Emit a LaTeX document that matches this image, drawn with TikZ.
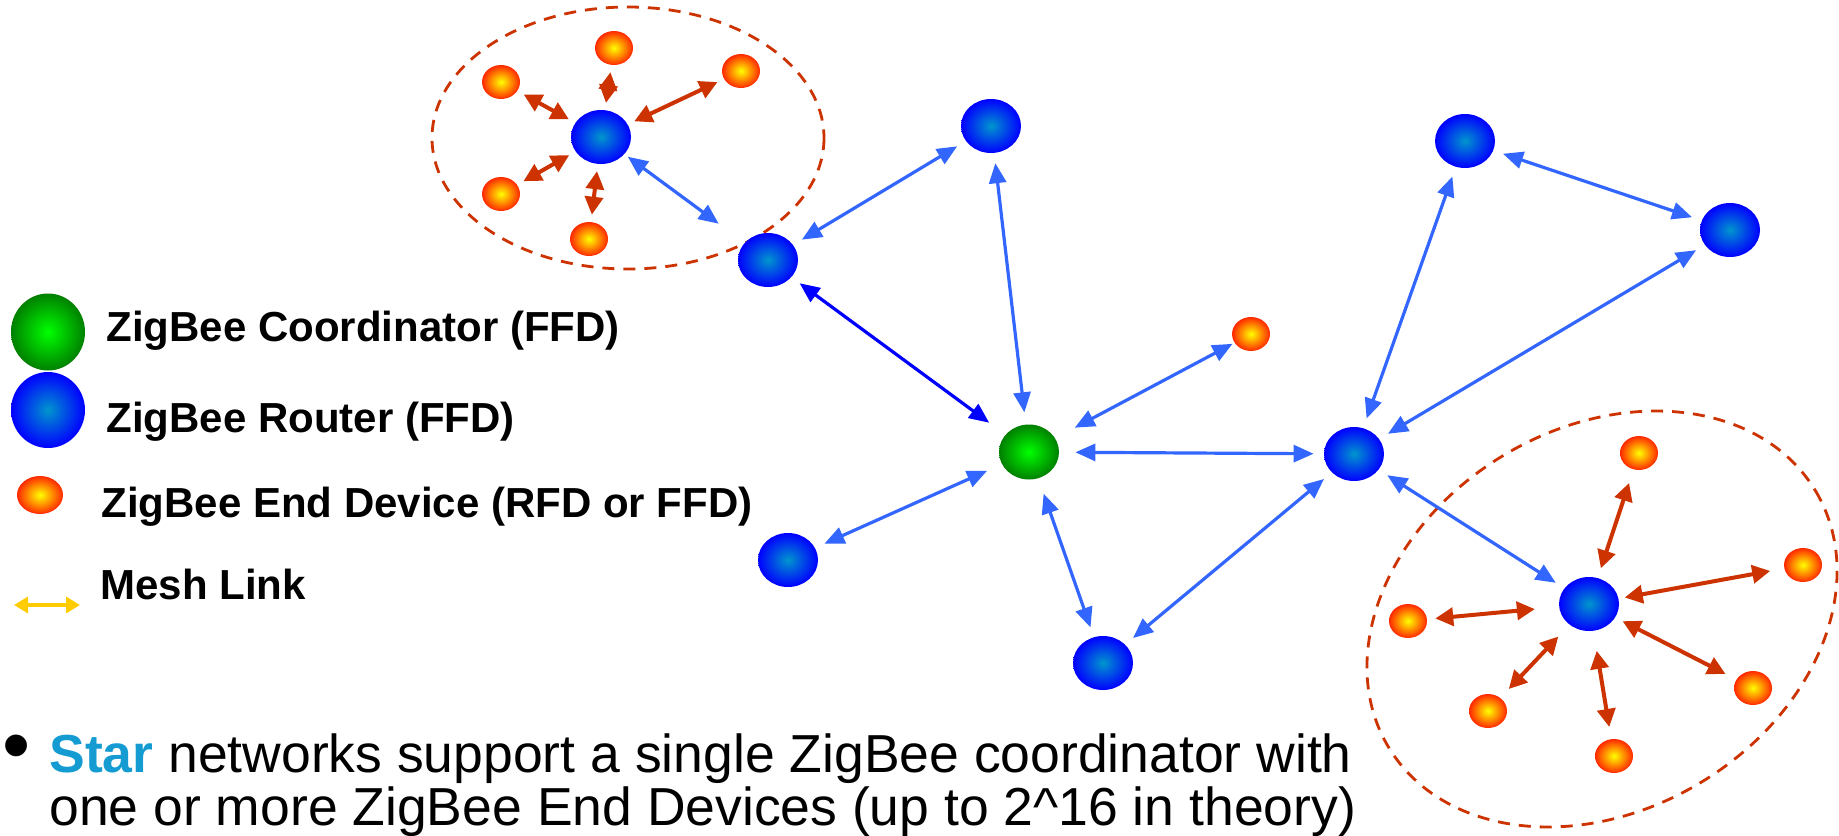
\documentclass[tikz,border=0pt]{standalone}
\usepackage{fontspec}
\setmainfont{Liberation Sans}
\usetikzlibrary{shapes.geometric,arrows.meta}
\definecolor{linkblue}{RGB}{51,102,255}
\definecolor{starred}{RGB}{204,51,0}
\definecolor{meshgold}{RGB}{255,204,0}
\definecolor{starcyan}{RGB}{20,155,210}
\definecolor{rtin}{RGB}{0,150,205}
\definecolor{crdout}{RGB}{0,128,0}
\definecolor{devout}{RGB}{255,40,0}
\begin{document}
\begin{tikzpicture}[x=0.5pt, y=-0.5pt,
  rtr/.style={ellipse, inner sep=0, minimum width=30pt, minimum height=27pt, inner color=rtin, outer color=blue},
  crd/.style={ellipse, inner sep=0, minimum width=30pt, minimum height=27.5pt, inner color=green, outer color=crdout},
  dev/.style={ellipse, inner sep=0, minimum width=19pt, minimum height=17pt, inner color=yellow, outer color=devout},
  link/.style={linkblue, line width=1.6pt, {Triangle[length=10pt,width=8.5pt]}-{Triangle[length=10pt,width=8.5pt]}, shorten <=5pt, shorten >=5pt},
  slink/.style={starred, line width=2pt, {Triangle[length=9pt,width=9pt]}-{Triangle[length=9pt,width=9pt]}, shorten <=3.5pt, shorten >=3.5pt},
  zone/.style={starred, line width=1.4pt, dash pattern=on 6pt off 4.5pt},
  lgtxt/.style={anchor=base west, inner sep=0, font=\fontsize{21}{25}\selectfont\bfseries},
  bodytxt/.style={anchor=base west, inner sep=0, font=\fontsize{26.75}{27}\selectfont}]
\useasboundingbox (0,0) rectangle (1839,835);

% star zones
\draw[zone] (628,138) ellipse [x radius=196, y radius=131];
\draw[zone, rotate around={31:(1602,619)}] (1602,619) ellipse [x radius=249, y radius=191];

% legend
\node[crd, minimum width=37pt, minimum height=38.5pt] (lgc) at (48,332){};
\node[rtr, minimum width=37pt, minimum height=38pt] (lgr) at (48,410){};
\node[dev, minimum width=23pt, minimum height=19pt] (lge) at (40,495){};
\coordinate (ml1) at (14,605);
\coordinate (ml2) at (80,605);
\draw[meshgold, line width=1.8pt, {Triangle[length=7pt,width=8pt]}-{Triangle[length=7pt,width=8pt]}] (ml1) -- (ml2);
\node[lgtxt] (tco) at (106,341){ZigBee Coordinator (FFD)};
\node[lgtxt] (trt) at (106,432){ZigBee Router (FFD)};
\node[lgtxt] (ted) at (101,517){ZigBee End Device (RFD or FFD)};
\node[lgtxt] (tml) at (100,599){Mesh Link};

% top-left star
\node[rtr] (rt1) at (601,137){};
\node[dev] (ed1) at (501,82){};
\node[dev] (ed2) at (614,48){};
\node[dev] (ed3) at (741,71){};
\node[dev] (ed4) at (501,194){};
\node[dev] (ed5) at (589,239){};
\draw[slink](rt1) -- (ed1);
\draw[slink](rt1) -- (ed2);
\draw[slink](rt1) -- (ed3);
\draw[slink](rt1) -- (ed4);
\draw[slink](rt1) -- (ed5);

% mesh
\node[rtr] (rt2) at (768,260){};
\node[rtr] (rt3) at (991,126){};
\node[crd] (co) at (1029,452){};
\node[dev] (ed6) at (1251,334){};
\node[rtr] (rt4) at (1354,454){};
\node[rtr] (rt5) at (788,560){};
\node[rtr] (rt6) at (1103,663){};
\node[rtr] (rt7) at (1465,141){};
\node[rtr] (rt8) at (1730,230){};
\node[rtr] (rt9) at (1589,604){};
\draw[link, shorten <=2pt, shorten >=16pt](rt1) -- (rt2);
\draw[link](rt2) -- (rt3);
\draw[link, blue, shorten <=10pt](co) -- (rt2);
\draw[link, shorten <=6pt](co) -- (rt3);
\draw[link, shorten <=11pt, shorten >=1pt](co) -- (ed6);
\draw[link, shorten <=8pt](co) -- (rt4);
\draw[link, shorten <=8pt](co) -- (rt5);
\draw[link, shorten <=8pt](co) -- (rt6);
\draw[link](rt6) -- (rt4);
\draw[link](rt4) -- (rt7);
\draw[link](rt4) -- (rt8);
\draw[link](rt7) -- (rt8);
\draw[link](rt4) -- (rt9);

% bottom-right star
\node[dev] (ed7) at (1639,453){};
\node[dev] (ed8) at (1803,565){};
\node[dev] (ed9) at (1408,621){};
\node[dev] (ed10) at (1753,688){};
\node[dev] (ed11) at (1488,711){};
\node[dev] (ed12) at (1614,756){};
\draw[slink, shorten <=5pt, shorten >=7pt](rt9) -- (ed7);
\draw[slink, shorten <=3pt, shorten >=7pt](rt9) -- (ed8);
\draw[slink, shorten <=12pt, shorten >=4pt](rt9) -- (ed9);
\draw[slink, shorten <=4pt, shorten >=6pt](rt9) -- (ed10);
\draw[slink, shorten <=8pt, shorten >=6pt](rt9) -- (ed11);
\draw[slink, shorten <=10pt, shorten >=6pt](rt9) -- (ed12);

% bullet text
\node[bodytxt] (bul) at (2,772){\scalebox{1.5}{•}};
\node[bodytxt] (bl1) at (49,772){\textcolor{starcyan}{\bfseries Star} networks support a single ZigBee coordinator with};
\node[bodytxt] (bl2) at (49,825){one or more ZigBee End Devices (up to 2\textasciicircum16 in theory)};
\end{tikzpicture}
\end{document}
